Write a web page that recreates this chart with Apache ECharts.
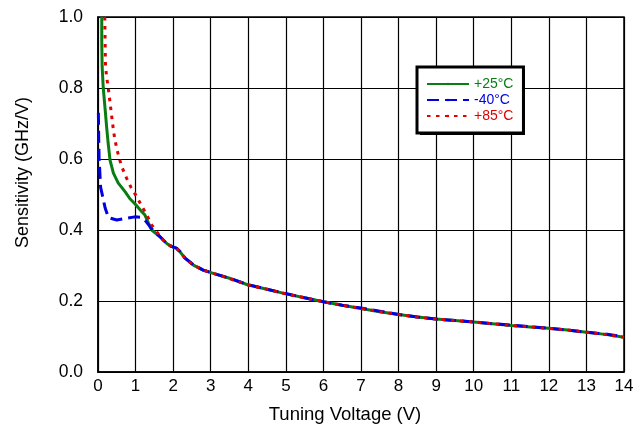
<!DOCTYPE html>
<html>
<head>
<meta charset="utf-8">
<script src="https://cdn.jsdelivr.net/npm/echarts@6/dist/echarts.min.js"></script>
<style>
html,body{margin:0;padding:0;background:#fff;}
#chart{width:637px;height:430px;}
</style>
</head>
<body>
<div id="chart"></div>
<script>
// Tuning voltage (V) vs sensitivity (GHz/V)
var seriesNames = ['+25°C', '-40°C', '+85°C'];
var xTicks = [0,1,2,3,4,5,6,7,8,9,10,11,12,13,14];
var yTicks = [0.0,0.2,0.4,0.6,0.8,1.0];

var green25 = [
  [0.10,1.00],[0.10,0.93],[0.11,0.86],[0.125,0.83],[0.14,0.80],[0.19,0.74],[0.23,0.69],
  [0.27,0.645],[0.32,0.597],[0.41,0.56],[0.54,0.532],[0.72,0.508],[0.85,0.488],[1.00,0.472],
  [1.16,0.452],[1.25,0.442],[1.34,0.42],[1.43,0.40],[1.65,0.381],[1.83,0.362],[1.96,0.353],
  [2.09,0.348],[2.18,0.339],[2.32,0.32],[2.54,0.301],[2.80,0.287],[3.07,0.278],[3.50,0.264],
  [4.00,0.245],[4.50,0.233],[5.00,0.220],[5.50,0.209],[6.00,0.198],[6.50,0.188],[7.00,0.179],
  [7.50,0.170],[8.00,0.162],[8.50,0.155],[9.00,0.149],[9.50,0.145],[10.00,0.141],[10.50,0.136],
  [11.00,0.131],[11.50,0.127],[12.00,0.123],[12.50,0.118],[13.00,0.112],[13.50,0.106],[14.00,0.098]
];
var blueMinus40 = [
  [0.01,0.73],[0.02,0.65],[0.03,0.60],[0.05,0.56],[0.07,0.52],[0.125,0.494],[0.19,0.462],
  [0.28,0.435],[0.50,0.428],[0.76,0.433],[0.98,0.437],[1.12,0.436],[1.25,0.428],[1.38,0.41],
  [1.50,0.395],[1.65,0.381],[1.83,0.362],[1.96,0.354],[2.09,0.349],[2.18,0.340],[2.32,0.321],
  [2.54,0.302],[2.80,0.287],[3.07,0.278],[3.50,0.264],[4.00,0.246],[4.50,0.233],[5.00,0.221],
  [5.50,0.209],[6.00,0.198],[6.50,0.188],[7.00,0.180],[7.50,0.171],[8.00,0.162],[8.50,0.155],
  [9.00,0.149],[9.50,0.145],[10.00,0.141],[10.50,0.136],[11.00,0.132],[11.50,0.128],[12.00,0.123],
  [12.50,0.118],[13.00,0.112],[13.50,0.107],[14.00,0.099]
];
var red85 = [
  [0.18,1.00],[0.19,0.93],[0.20,0.86],[0.23,0.832],[0.29,0.786],[0.35,0.733],[0.41,0.682],
  [0.45,0.654],[0.51,0.625],[0.56,0.603],[0.65,0.574],[0.76,0.546],[0.87,0.522],[1.03,0.494],
  [1.16,0.468],[1.30,0.442],[1.43,0.414],[1.60,0.39],[1.65,0.381],[1.83,0.362],[1.96,0.353],
  [2.09,0.348],[2.18,0.339],[2.32,0.32],[2.54,0.301],[2.80,0.287],[3.07,0.278],[3.50,0.263],
  [4.00,0.245],[4.50,0.233],[5.00,0.220],[5.50,0.209],[6.00,0.198],[6.50,0.188],[7.00,0.179],
  [7.50,0.170],[8.00,0.162],[8.50,0.155],[9.00,0.149],[9.50,0.145],[10.00,0.141],[10.50,0.136],
  [11.00,0.131],[11.50,0.127],[12.00,0.123],[12.50,0.118],[13.00,0.112],[13.50,0.106],[14.00,0.098]
];

var colors = ['#0a7d12', '#0000e0', '#e00000'];
var font = 'Liberation Sans, Arial, sans-serif';

var chart = echarts.init(document.getElementById('chart'), null, {renderer:'canvas'});
chart.setOption({
  animation: false,
  backgroundColor: '#fff',
  grid: {left: 98, right: 13, top: 17, bottom: 58, show: true, borderColor: '#000', borderWidth: 1.5, backgroundColor: 'transparent'},
  graphic: [{
    type: 'rect', left: 420, top: 70, z: 50,
    shape: {width: 105, height: 65},
    style: {fill: '#000'}
  }],
  legend: {
    orient: 'vertical',
    left: 417, top: 67, z: 60,
    itemWidth: 42, itemHeight: 3, itemGap: 2,
    padding: [10, 10, 10, 9],
    backgroundColor: '#fff',
    borderColor: '#000', borderWidth: 3,
    textStyle: {fontFamily: font, fontSize: 14},
    data: seriesNames.map(function(n, i){ return {name: n, textStyle: {color: colors[i]}}; })
  },
  xAxis: {
    type: 'value', min: xTicks[0], max: xTicks[xTicks.length-1], interval: 1,
    name: 'Tuning Voltage (V)', nameLocation: 'middle', nameGap: 33,
    nameTextStyle: {fontFamily: font, fontSize: 18.5, color: '#000', padding: [0, 32, 0, 0]},
    axisLine: {lineStyle: {color: '#000', width: 1.5}},
    axisTick: {inside: true, length: 4, lineStyle: {color: '#000'}},
    axisLabel: {fontFamily: font, fontSize: 17, color: '#000', margin: 6},
    splitLine: {show: true, lineStyle: {color: '#000', width: 1.2}}
  },
  yAxis: {
    type: 'value', min: yTicks[0], max: yTicks[yTicks.length-1], interval: 0.2,
    name: 'Sensitivity (GHz/V)', nameLocation: 'middle', nameGap: 66,
    nameTextStyle: {fontFamily: font, fontSize: 18, color: '#000', padding: [0, 0, 0, 44]},
    axisLine: {lineStyle: {color: '#000', width: 1.5}},
    axisTick: {inside: true, length: 4, lineStyle: {color: '#000'}},
    axisLabel: {fontFamily: font, fontSize: 17.5, color: '#000', margin: 15,
      formatter: function(v){ return v.toFixed(1); }},
    splitLine: {show: true, lineStyle: {color: '#000', width: 1.2}}
  },
  series: [
    {name: seriesNames[0], type: 'line', data: green25, showSymbol: false, symbol: 'none',
     lineStyle: {color: colors[0], width: 3, type: 'solid'}, itemStyle: {color: colors[0]}, z: 3},
    {name: seriesNames[1], type: 'line', data: blueMinus40, showSymbol: false, symbol: 'none',
     lineStyle: {color: colors[1], width: 3, type: [12, 6]}, itemStyle: {color: colors[1]}, z: 4},
    {name: seriesNames[2], type: 'line', data: red85, showSymbol: false, symbol: 'none',
     lineStyle: {color: colors[2], width: 3, type: [3.5, 5.5]}, itemStyle: {color: colors[2]}, z: 5}
  ]
});
</script>
</body>
</html>
